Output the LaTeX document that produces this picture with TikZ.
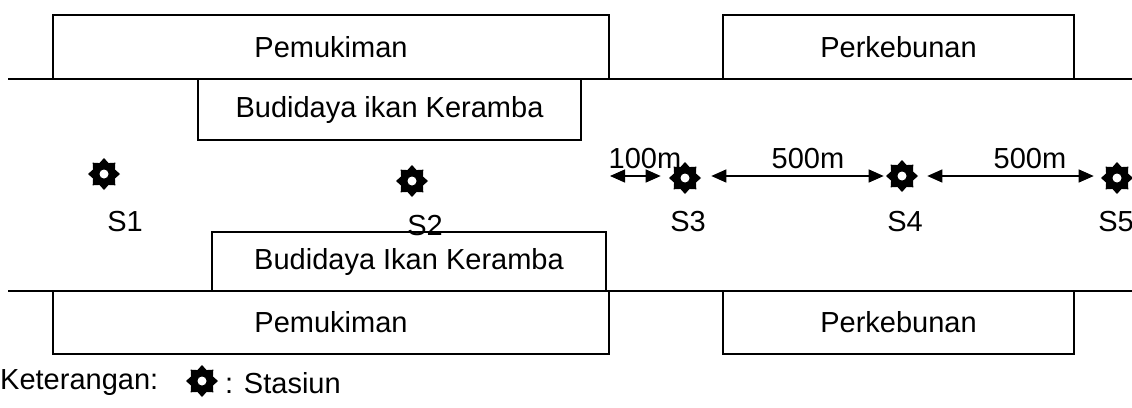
\documentclass[tikz,border=0pt]{standalone}
\usepackage{fontspec}
\setmainfont{Liberation Sans}
\usetikzlibrary{shapes.geometric,arrows.meta}
\begin{document}
\begin{tikzpicture}[x=1pt,y=-1pt,
  txt/.style={inner sep=0pt,font=\fontsize{29}{33}\selectfont},
  box/.style={txt,draw,line width=1.2pt,minimum height=#1},
  edge/.style={line width=1.2pt},
  stn/.style={star,star points=8,star point ratio=1.35,minimum size=32pt,inner sep=0pt,fill=black,
    path picture={\fill[white] (path picture bounding box.center) circle (4.5pt);}},
  arr/.style={line width=1.3pt,{Triangle[length=15pt,width=13pt]}-{Triangle[length=15pt,width=13pt]}}]
\useasboundingbox (0,0) rectangle (1132,407);
% river banks
\coordinate (tl) at (8,79);
\coordinate (tr) at (1132,79);
\coordinate (bl) at (8,291);
\coordinate (br) at (1132,291);
\draw[edge] (tl) -- (tr);
\draw[edge] (bl) -- (br);
% top boxes
\node[box=64,minimum width=556] (pemT) at (331,47) {Pemukiman};
\node[box=64,minimum width=351] (perT) at (898.5,47) {Perkebunan};
\node[box=61,minimum width=383] (budT) at (389.5,109.5) {Budidaya ikan Keramba};
% bottom boxes
\node[box=59,minimum width=394] (budB) at (409,261.5) {Budidaya Ikan Keramba};
\node[box=63,minimum width=556] (pemB) at (331,322.5) {Pemukiman};
\node[box=63,minimum width=351] (perB) at (898.5,322.5) {Perkebunan};
% stations
\node[stn] (s1) at (104,174) {};
\node[stn] (s2) at (412,181) {};
\node[stn] (s3) at (685,178) {};
\node[stn] (s4) at (902,176) {};
\node[stn] (s5) at (1117,178) {};
\node[txt] (l1) at (125,222) {S1};
\node[txt] (l2) at (425,226) {S2};
\node[txt] (l3) at (688,222) {S3};
\node[txt] (l4) at (905,222) {S4};
\node[txt] (l5) at (1116,222) {S5};
% distances
\coordinate (a0) at (610,176);
\draw[arr,shorten >=8pt] (a0) -- (s3.west |- a0);
\draw[arr,shorten <=10pt,shorten >=2pt] (s3.east |- a0) -- (s4.west |- a0);
\draw[arr,shorten <=9pt,shorten >=7pt] (s4.east |- a0) -- (s5.west |- a0);
\node[txt] (d1) at (645,159) {100m};
\node[txt] (d2) at (808,159) {500m};
\node[txt] (d3) at (1030,159) {500m};
% legend
\node[txt,anchor=west] (ket) at (0,383) {Keterangan:};
\node[stn] (ks) at (202,381) {};
\node[txt,anchor=west] (kst) at (225,383) {: Stasiun};
\end{tikzpicture}
\end{document}
